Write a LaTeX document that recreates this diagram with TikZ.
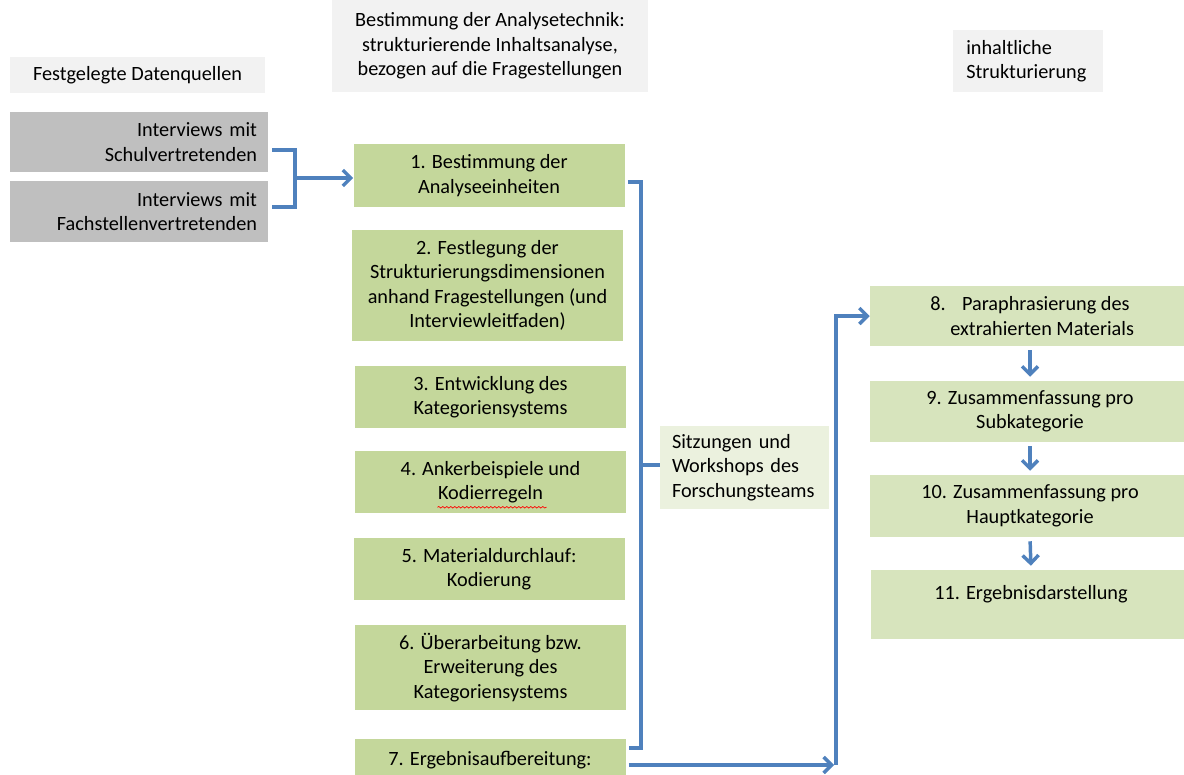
\documentclass[tikz,border=0pt]{standalone}
\usepackage{fontspec}
\setmainfont{Carlito}
\usepackage{xcolor}
\usetikzlibrary{arrows.meta, positioning, calc, decorations.pathmorphing}
\definecolor{headgray}{HTML}{F2F2F2}
\definecolor{srcgray}{HTML}{BFBFBF}
\definecolor{stepgreen}{HTML}{C4D79B}
\definecolor{sumgreen}{HTML}{D7E4BD}
\definecolor{teamgreen}{HTML}{EBF1DE}
\definecolor{linkblue}{HTML}{4F81BD}

\begin{document}
\begin{tikzpicture}[x=0.75pt,y=-0.75pt,>={Straight Barb[length=6pt,width=12pt]},every node/.style={font=\fontsize{15.2}{18.4}\selectfont},head/.style={fill=headgray,inner sep=0pt,align=center},source/.style={fill=srcgray,text width=177pt,inner xsep=8.25pt,inner ysep=0pt,align=right},stepbox/.style={fill=stepgreen,minimum width=203.25pt,inner sep=0pt,align=center},sumbox/.style={fill=sumgreen,minimum width=240pt,inner sep=0pt,align=center},link/.style={draw=linkblue,line width=2.6pt}]
  \clip (0,0) rectangle (1184,774);
  % headings
  \node[head,minimum width=191.25pt,minimum height=27pt] (hdsrc) at (137.5,75) {Festgelegte Datenquellen};
  \node[head,minimum width=237pt,minimum height=69pt] (hdtech) at (490,46) {Bestimmung der Analysetechnik:\\strukturierende Inhaltsanalyse,\\bezogen auf die Fragestellungen};
  \node[head,anchor=west,text width=93pt,inner xsep=9.75pt,minimum height=46.5pt,align=left] (hdstruct) at (953,61) {inhaltliche\\Strukturierung};
  % data sources
  \node[source,minimum height=45pt] (gA) at (139,142) {Interviews mit\\Schulvertretenden};
  \node[source,minimum height=45.75pt] (gB) at (139,211.5) {Interviews mit\\Fachstellenvertretenden};
  % analysis steps
  \node[stepbox,minimum height=47.25pt] (s1) at (489,175.5) {1. Bestimmung der\\Analyseeinheiten};
  \node[stepbox,minimum height=83.25pt] (s2) at (487.5,285.5) {2. Festlegung der\\Strukturierungsdimensionen\\anhand Fragestellungen (und\\Interviewleitfaden)};
  \node[stepbox,minimum height=46.5pt] (s3) at (490.5,397) {3. Entwicklung des\\Kategoriensystems};
  \node[stepbox,minimum height=46.5pt] (s4) at (490.5,482) {4. Ankerbeispiele und\\Kodierregeln};
  \node[stepbox,minimum height=46.5pt] (s5) at (489,569) {5. Materialdurchlauf:\\Kodierung};
  \node[stepbox,minimum height=63.75pt] (s6) at (490.5,667.5) {6. Überarbeitung bzw.\\Erweiterung des\\Kategoriensystems};
  \node[stepbox,minimum height=47.25pt] (s7) at (490,770.5) {7. Ergebnisaufbereitung:\\\mbox{}};
  \node[fill=teamgreen,text width=108.75pt,inner xsep=9pt,inner ysep=0pt,minimum height=62.25pt,align=left] (sitz) at (744.5,467.5) {Sitzungen und\\Workshops des\\Forschungsteams};
  % summary steps
  \node[sumbox,minimum height=45pt] (r8) at (1030,316) {8.\hspace{0.8em}Paraphrasierung des\\\hspace{1.2em}extrahierten Materials};
  \node[sumbox,minimum height=45.75pt] (r9) at (1030,411.5) {9. Zusammenfassung pro\\Subkategorie};
  \node[sumbox,minimum height=46.5pt] (r10) at (1030,506) {10. Zusammenfassung pro\\Hauptkategorie};
  \node[sumbox,minimum height=51.75pt] (r11) at (1031,604.5) {11. Ergebnisdarstellung\\\mbox{}};
  % spell-check mark
  \draw[red,line width=0.5pt,decorate,decoration={snake,amplitude=0.6pt,segment length=3pt}] ($(s4.south)+(-53,-6)$) -- ($(s4.south)+(56,-6)$);
  % connectors
  \coordinate (gjoin) at (295,178);
  \coordinate (tjoin) at (641,465);
  \coordinate (rjoin) at (836,765);
  \draw[link] ($(gA.east)+(4,8)$) -| (gjoin) |- ($(gB.east)+(4,-4.5)$);
  \draw[link,->] (gjoin) -- (s1.west |- gjoin);
  \draw[link] ($(s1.east)+(3,6.5)$) -| (tjoin) |- ($(s7.east)+(3,-22.5)$);
  \draw[link] (tjoin) -- (sitz.west |- tjoin);
  \draw[link,->,shorten >=1.5pt] ($(s7.east)+(3,-5.5)$) -- (rjoin);
  \draw[link,->] (rjoin) |- (r8.west);
  \foreach \a/\b in {r8/r9,r9/r10,r10/r11}
    \draw[link,->,shorten <=3pt,shorten >=3pt] (\a.south) -- (\b.north);
\end{tikzpicture}
\end{document}
